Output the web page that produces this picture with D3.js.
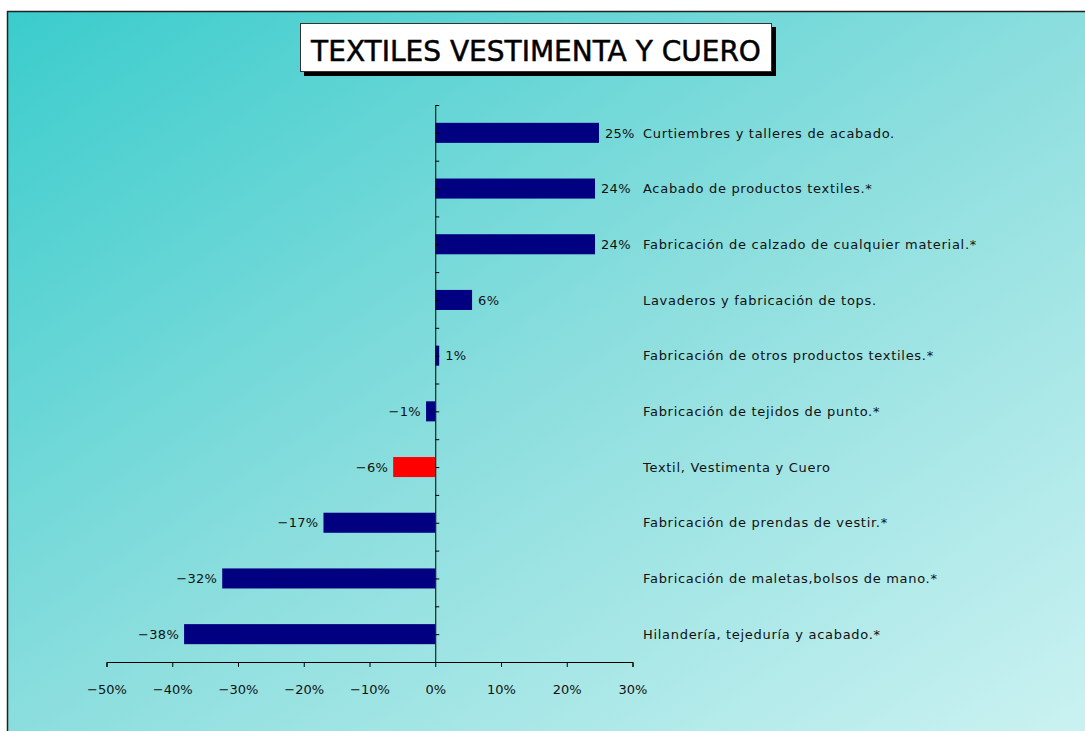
<!DOCTYPE html>
<html>
<head>
<meta charset="utf-8">
<script src="https://cdn.jsdelivr.net/npm/d3@7"></script>
<style>
  html, body { margin: 0; padding: 0; background: #ffffff; }
  svg { display: block; }
  text { font-family: "DejaVu Sans", Verdana, sans-serif; }
</style>
</head>
<body>
<svg id="chart" width="1085" height="731"></svg>
<script>
const title = "TEXTILES VESTIMENTA Y CUERO";
const categories = [
  "Curtiembres y talleres de acabado.",
  "Acabado de productos textiles.*",
  "Fabricación de calzado de cualquier material.*",
  "Lavaderos y fabricación de tops.",
  "Fabricación de otros productos textiles.*",
  "Fabricación de tejidos de punto.*",
  "Textil, Vestimenta y Cuero",
  "Fabricación de prendas de vestir.*",
  "Fabricación de maletas,bolsos de mano.*",
  "Hilandería, tejeduría y acabado.*"
];
const values = [24.9, 24.3, 24.3, 5.6, 0.6, -1.4, -6.4, -17.0, -32.4, -38.2];
const highlight = "Textil, Vestimenta y Cuero";
const xTicks = [-50, -40, -30, -20, -10, 0, 10, 20, 30];

const svg = d3.select("#chart");

// background gradient
const defs = svg.append("defs");
const grad = defs.append("linearGradient").attr("id", "bg")
  .attr("x1", "0%").attr("y1", "0%").attr("x2", "100%").attr("y2", "100%");
grad.append("stop").attr("offset", "0%").attr("stop-color", "#3bcccc");
grad.append("stop").attr("offset", "50%").attr("stop-color", "#8cdede");
grad.append("stop").attr("offset", "100%").attr("stop-color", "#ccf2f2");

svg.append("rect").attr("x", 7.5).attr("y", 11.5).attr("width", 1090).attr("height", 730)
  .attr("fill", "url(#bg)").attr("stroke", "#222").attr("stroke-width", 1.5);

// title box
svg.append("rect").attr("x", 304).attr("y", 27).attr("width", 472).attr("height", 49).attr("fill", "#000");
svg.append("rect").attr("x", 300.5).attr("y", 23.5).attr("width", 471).attr("height", 48)
  .attr("fill", "#fff").attr("stroke", "#333").attr("stroke-width", 1);
svg.append("text").attr("x", 536).attr("y", 61).attr("text-anchor", "middle")
  .attr("font-size", 28).attr("fill", "#000").attr("stroke", "#000").attr("stroke-width", 0.5)
  .text(title);

// scales
const x = d3.scaleLinear().domain([-50, 30]).range([106.5, 632.5]);
const yTop = 105, yBot = 662;
const y = d3.scaleBand().domain(categories).range([yTop, yBot]).paddingInner(0.64).paddingOuter(0.32);
const yIdx = d3.scaleLinear().domain([0, categories.length]).range([yTop, yBot]);

const fmt = v => {
  const r = Math.round(v);
  return (r < 0 ? "\u2212" + Math.abs(r) : r) + "%";
};

// bars
svg.append("g").selectAll("rect").data(categories).join("rect")
  .attr("x", (d, i) => x(Math.min(0, values[i])))
  .attr("y", d => y(d))
  .attr("width", (d, i) => Math.abs(x(values[i]) - x(0)))
  .attr("height", y.bandwidth())
  .attr("fill", d => d === highlight ? "#ff0000" : "#000080");

// x axis
const xAxis = svg.append("g").attr("transform", `translate(0,${yBot})`)
  .call(d3.axisBottom(x).tickValues(xTicks).tickSize(5).tickPadding(18).tickFormat(fmt));
xAxis.select(".domain").attr("stroke", "#000");
xAxis.selectAll("line").attr("stroke", "#000");
xAxis.selectAll("text").attr("font-size", 13).attr("fill", "#111")
  .attr("font-family", "DejaVu Sans, sans-serif");

// y axis (vertical line at zero with ticks)
const yAxis = svg.append("g").attr("transform", `translate(${x(0)},0)`)
  .call(d3.axisRight(yIdx).tickValues(d3.range(0, categories.length + 0.5, 0.5)).tickSize(4).tickSizeOuter(0).tickFormat(""));
yAxis.select(".domain").attr("stroke", "#000");
yAxis.selectAll("line").attr("stroke", "#000");

// value labels
svg.append("g").selectAll("text").data(categories).join("text")
  .attr("x", (d, i) => values[i] >= 0 ? x(values[i]) + 6 : x(values[i]) - 5)
  .attr("y", d => y(d) + y.bandwidth() / 2)
  .attr("dy", "0.36em")
  .attr("text-anchor", (d, i) => values[i] >= 0 ? "start" : "end")
  .attr("font-size", 13).attr("letter-spacing", 0.3).attr("fill", "#111")
  .text((d, i) => fmt(values[i]));

// category labels
svg.append("g").selectAll("text").data(categories).join("text")
  .attr("x", 643)
  .attr("y", d => y(d) + y.bandwidth() / 2)
  .attr("dy", "0.36em")
  .attr("font-size", 13).attr("letter-spacing", 0.7).attr("fill", "#111")
  .text(d => d);
</script>
</body>
</html>
